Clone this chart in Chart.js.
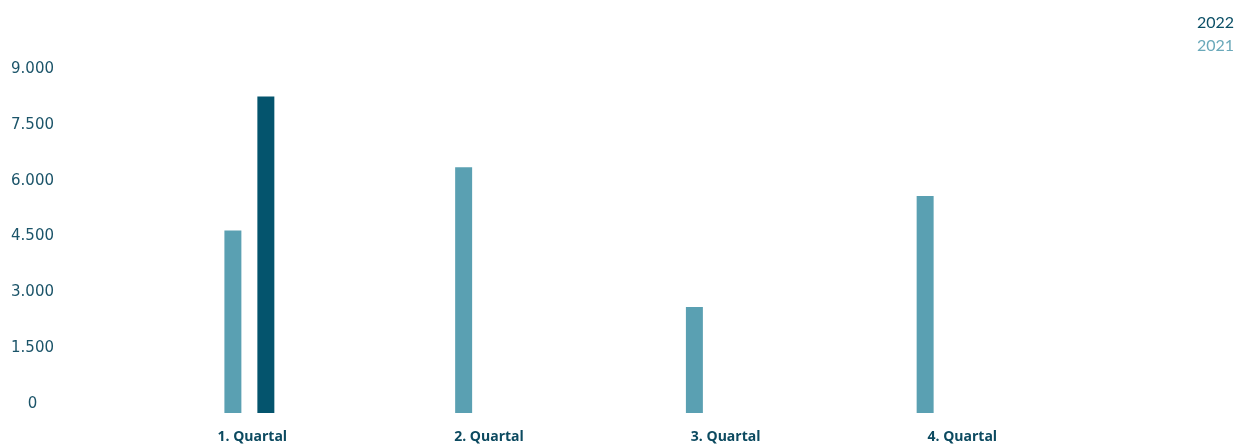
<!DOCTYPE html>
<html lang="de">
<head>
<meta charset="utf-8">
<script src="https://cdn.jsdelivr.net/npm/chart.js@4"></script>
<style>
    html, body { margin: 0; padding: 0; background: #ffffff; }
    #wrapper { position: relative; width: 1237px; height: 445px; }
    #legende { position: absolute; top: 10px; right: 3px; text-align: right; font-family: Lato, sans-serif; font-size: 16px; line-height: 23px; }
</style>
</head>
<body>
<div id="wrapper">
    <canvas id="quartalChart" width="1237" height="445"></canvas>
    <div id="legende">
        <div style="color:#0b4f66">2022</div>
        <div style="color:#6aa9ba">2021</div>
    </div>
</div>
<script>
const quartale = ['1. Quartal', '2. Quartal', '3. Quartal', '4. Quartal'];
const werte2021 = [4900, 6600, 2850, 5830];
const werte2022 = [8500, null, null, null];
const yTicks = [0, 1500, 3000, 4500, 6000, 7500, 9000];

const farbe2021 = '#5aa0b2';
const farbe2022 = '#04546d';

let grafico;

// Chart.js rechnet sonst Tick-Padding in den Rand, das verschiebt den Plotbereich
const ohneRandPadding = axis => {
    axis.paddingTop = 0;
    axis.paddingBottom = 0;
    axis.paddingLeft = 0;
    axis.paddingRight = 0;
};

function zeichneDiagramm() {
    const ctx = document.getElementById('quartalChart').getContext('2d');

    grafico = new Chart(ctx, {
        type: 'bar',
        data: {
            labels: quartale,
            datasets: [{
                label: '2021',
                data: werte2021,
                backgroundColor: farbe2021,
                categoryPercentage: 0.2857,
                barPercentage: 0.515
            }, {
                label: '2022',
                data: werte2022,
                backgroundColor: farbe2022,
                categoryPercentage: 0.2857,
                barPercentage: 0.515
            }]
        },
        options: {
            responsive: false,
            animation: false,
            layout: {
                padding: { left: 10, right: 180, top: 78, bottom: 0 }
            },
            scales: {
                x: {
                    display: false
                },
                // eigene Achse nur fuer die Beschriftung, die etwas weiter auseinander steht
                xLabel: {
                    type: 'linear',
                    position: 'bottom',
                    offset: false,
                    min: -0.5,
                    max: 3.4,
                    grid: { display: false, drawTicks: false },
                    border: { display: false },
                    afterBuildTicks: axis => {
                        axis.ticks = quartale.map((q, i) => ({ value: i }));
                    },
                    afterFit: axis => {
                        ohneRandPadding(axis);
                        axis.height = 32;
                    },
                    ticks: {
                        padding: 16,
                        maxRotation: 0,
                        autoSkip: false,
                        color: '#0c4a60',
                        font: { family: 'Open Sans', size: 14, weight: 'bold' },
                        callback: value => quartale[value]
                    }
                },
                y: {
                    min: 0,
                    max: 9000,
                    grid: { display: false, drawTicks: false },
                    border: { display: false },
                    afterBuildTicks: axis => {
                        axis.ticks = yTicks.map(v => ({ value: v }));
                    },
                    afterFit: axis => {
                        ohneRandPadding(axis);
                        axis.width = 124;
                    },
                    ticks: {
                        padding: 80,
                        labelOffset: -9,
                        crossAlign: 'center',
                        color: '#1b5469',
                        font: { family: 'DejaVu Sans', size: 15 },
                        callback: value => value.toLocaleString('de-DE')
                    }
                }
            },
            plugins: {
                legend: { display: false },
                tooltip: { enabled: false }
            }
        }
    });
}

zeichneDiagramm();
</script>
</body>
</html>
